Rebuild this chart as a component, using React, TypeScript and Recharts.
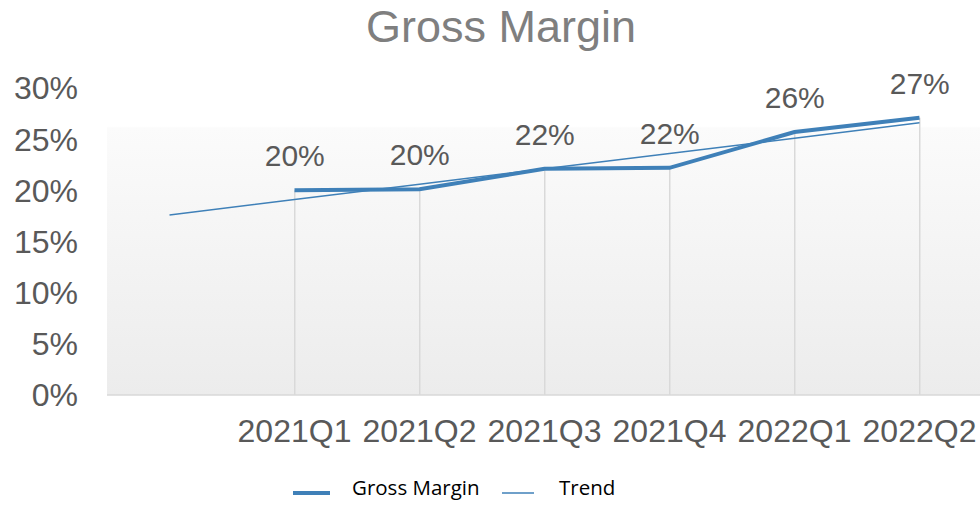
import React from 'react';
import { ComposedChart, Line, Bar, XAxis, YAxis, CartesianGrid, LabelList } from 'recharts';

// quarters (first slot is left empty; the trend starts one period before 2021Q1)
const quarters = ['', '2021Q1', '2021Q2', '2021Q3', '2021Q4', '2022Q1', '2022Q2'];
const grossMargin = [null, 0.200, 0.201, 0.221, 0.222, 0.257, 0.271];
const trend = [0.176, 0.191, 0.206, 0.221, 0.236, 0.251, 0.266];
const yTicks = [0, 0.05, 0.1, 0.15, 0.2, 0.25, 0.3];

const BLUE = '#3f80b8';
const TEXT = '#595959';
const ARIAL = "'Liberation Sans', Arial, sans-serif";
const SANS = "'Open Sans', sans-serif";

const data = quarters.map((q, i) => ({ q, gm: grossMargin[i], trend: trend[i] }));

const pct = (v: number) => `${Math.round(v * 100)}%`;

const GmLabel = (props: any) => {
  const { x, y, width, value } = props;
  if (value == null) return null;
  return (
    <text x={x + width / 2} y={y - 24} textAnchor="middle" fill={TEXT} fontSize={30} fontFamily={ARIAL}>
      {pct(value)}
    </text>
  );
};

const App = () => {
  return (
    <div style={{ position: 'absolute', left: 0, top: 0, width: 980, height: 505, overflow: 'hidden', background: '#fff' }}>
      <svg width={980} height={60} style={{ position: 'absolute', left: 0, top: 0 }}>
        <text x={501} y={41.5} textAnchor="middle" fill="#7f7f7f" fontSize={45} fontFamily={ARIAL}>Gross Margin</text>
      </svg>
      <ComposedChart width={982} height={505} data={data} margin={{ top: 88, right: 0, left: 0, bottom: 50 }}>
        <defs>
          <linearGradient id="plotBg" x1="0" y1="0" x2="0" y2="1">
            <stop offset="0" stopColor="#ffffff" />
            <stop offset="0.125" stopColor="#ffffff" />
            <stop offset="0.13" stopColor="#fbfbfb" />
            <stop offset="1" stopColor="#ececec" />
          </linearGradient>
        </defs>
        <CartesianGrid horizontal={false} vertical={false} fill="url(#plotBg)" />
        <XAxis
          dataKey="q"
          height={60}
          tickLine={false}
          axisLine={{ stroke: '#d9d9d9', strokeWidth: 1.5 }}
          tickMargin={18}
          interval={0}
          tick={{ fill: TEXT, fontSize: 32, fontFamily: ARIAL }}
        />
        <YAxis
          width={107}
          domain={[0, 0.3]}
          ticks={yTicks}
          tickFormatter={pct}
          axisLine={false}
          tickLine={false}
          tickSize={0}
          tickMargin={29}
          tick={{ fill: TEXT, fontSize: 32, fontFamily: ARIAL }}
        />
        <Bar dataKey="gm" barSize={1.5} fill="#d9d9d9" legendType="none" isAnimationActive={false}>
          <LabelList dataKey="gm" content={GmLabel} />
        </Bar>
        <Line dataKey="gm" name="Gross Margin" stroke={BLUE} strokeWidth={4} dot={false} isAnimationActive={false} />
        <Line dataKey="trend" name="Trend" stroke={BLUE} strokeWidth={1.5} dot={false} isAnimationActive={false} />
      </ComposedChart>
      <svg width={980} height={35} style={{ position: 'absolute', left: 0, top: 470 }}>
        <line x1={293} x2={330} y1={23} y2={23} stroke={BLUE} strokeWidth={4} />
        <text x={352} y={25} fontSize={20.5} fontFamily={SANS} fill="#000">Gross Margin</text>
        <line x1={502} x2={534} y1={23} y2={23} stroke={BLUE} strokeWidth={1.5} />
        <text x={559} y={25} fontSize={20.5} fontFamily={SANS} fill="#000">Trend</text>
      </svg>
    </div>
  );
};

export default App;
